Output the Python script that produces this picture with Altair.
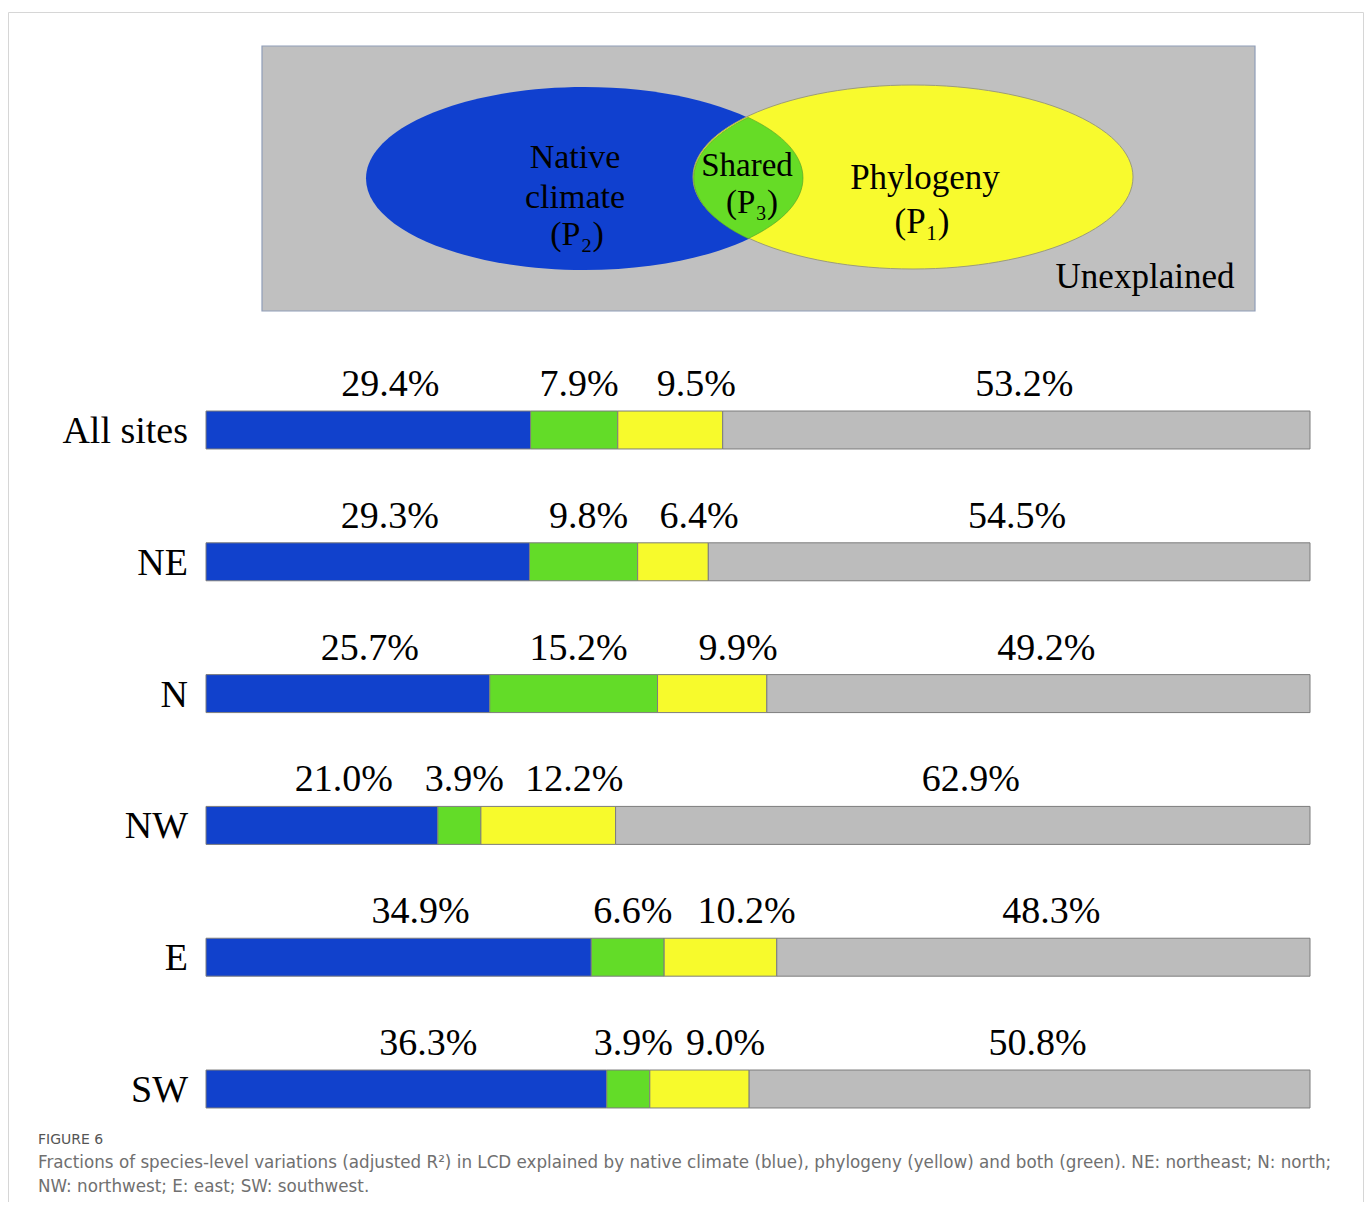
import altair as alt
import pandas as pd

# ---------------- data ----------------
sites = ["All sites", "NE", "N", "NW", "E", "SW"]
climate = [29.4, 29.3, 25.7, 21.0, 34.9, 36.3]
shared = [7.9, 9.8, 15.2, 3.9, 6.6, 3.9]
phylogeny = [9.5, 6.4, 9.9, 12.2, 10.2, 9.0]
unexplained = [53.2, 54.5, 49.2, 62.9, 48.3, 50.8]
components = ["Native climate", "Shared", "Phylogeny", "Unexplained"]
colors = ["#1141cc", "#63dc28", "#f7fa2c", "#bcbcbc"]

caption_title = "FIGURE 6"
caption_line1 = ("Fractions of species-level variations (adjusted R\u00b2) in LCD explained by native climate (blue), "
                 "phylogeny (yellow) and both (green). NE: northeast; N: north;")
caption_line2 = "NW: northwest; E: east; SW: southwest."

rows = []
series = [climate, shared, phylogeny, unexplained]
for i, s in enumerate(sites):
    for j, comp in enumerate(components):
        v = series[j][i]
        rows.append({"site": s, "component": comp, "order": j, "value": v, "label": f"{v:.1f}%"})
df = pd.DataFrame(rows)
one = pd.DataFrame({"k": [0]})

SERIF = "Liberation Serif"
SANS = "DejaVu Sans"

# ---------------- scales ----------------
xs = alt.Scale(domain=[0, 100], range=[198, 1302], nice=False, zero=False)
ys = alt.Scale(domain=sites, range=[356.1, 1146.9], paddingInner=0.712, paddingOuter=0.356)

# ---------------- frame + venn ----------------
frame = alt.Chart(one).mark_rect(fillOpacity=0, stroke="#d6d6d6", strokeWidth=1).encode(
    x=alt.value(0.5), x2=alt.value(1355.5), y=alt.value(4.5), y2=alt.value(1300))

venn_bg = alt.Chart(one).mark_rect(fill="#c0c0c0", stroke="#8f9db8", strokeWidth=1.2).encode(
    x=alt.value(254), x2=alt.value(1247), y=alt.value(38), y2=alt.value(303))


def ellipse_path(rx, ry):
    return f"M {-rx} 0 A {rx} {ry} 0 1 1 {rx} 0 A {rx} {ry} 0 1 1 {-rx} 0 Z"


blue_ell = alt.Chart(one).mark_point(shape=ellipse_path(218.5, 91.5), size=4, filled=True,
                                     fill="#1040cf", opacity=1, strokeWidth=0).encode(
    x=alt.value(576.5), y=alt.value(170.5))
yellow_ell = alt.Chart(one).mark_point(shape=ellipse_path(220, 92), size=4, filled=True,
                                       fill="#f8fa2e", stroke="#9c9c7a", strokeWidth=1, opacity=1).encode(
    x=alt.value(905), y=alt.value(169))
lens_path = "M 0 -60.6 A 220 92 0 0 0 0 60.6 A 218.5 91.5 0 0 0 0 -60.6 Z"
lens = alt.Chart(one).mark_point(shape=lens_path, size=4, filled=True, fill="#66dc26",
                                 stroke="#4f9a2a", strokeWidth=0.6, opacity=1).encode(
    x=alt.value(740.2), y=alt.value(170))


def vtext(t, x, y, size=34, align="center", font=SERIF, color="black", weight="normal"):
    return alt.Chart(one).mark_text(text=t, font=font, fontSize=size, align=align, fontWeight=weight,
                                    baseline="middle", color=color).encode(
        x=alt.value(x), y=alt.value(y))


venn_texts = [
    vtext("Native", 567, 150),
    vtext("climate", 567, 190),
    vtext("(P\u2082)", 569, 227),
    vtext("Shared", 739, 158, size=33),
    vtext("(P\u2083)", 744, 195, size=33),
    vtext("Phylogeny", 917, 170, size=35),
    vtext("(P\u2081)", 914, 214, size=35),
    vtext("Unexplained", 1137, 269, size=35),
]

# ---------------- bars ----------------
base = alt.Chart(df).transform_stack(
    stack="value", groupby=["site"], sort=[alt.SortField("order", order="ascending")], as_=["x0", "x1"]
).transform_calculate(mid="(datum.x0 + datum.x1) / 2")

bars = base.mark_bar(stroke="#7d7d7d", strokeWidth=1).encode(
    x=alt.X("x0:Q", scale=xs, axis=None),
    x2="x1:Q",
    y=alt.Y("site:N", scale=ys, axis=None, sort=sites),
    color=alt.Color("component:N", scale=alt.Scale(domain=components, range=colors), legend=None),
)

dxs = {"Native climate": 22, "Shared": 5, "Phylogeny": 26, "Unexplained": 8}
label_layers = [
    base.transform_filter(alt.datum.component == c).mark_text(
        font=SERIF, fontSize=38, dx=dxs[c], dy=-45, baseline="middle", color="black"
    ).encode(
        x=alt.X("mid:Q", scale=xs, axis=None),
        y=alt.Y("site:N", scale=ys, axis=None, sort=sites),
        text="label:N",
    )
    for c in components
]

cat_labels = alt.Chart(pd.DataFrame({"site": sites})).mark_text(
    font=SERIF, fontSize=38, align="right", baseline="middle", dy=2, color="black"
).encode(
    x=alt.value(180),
    y=alt.Y("site:N", scale=ys, axis=None, sort=sites),
    text="site:N",
)

# ---------------- caption ----------------
cap = [
    vtext(caption_title, 30, 1132, size=14, align="left", font=SANS, color="#555555"),
    vtext(caption_line1, 30, 1155, size=16.75, align="left", font=SANS, color="#707070"),
    vtext(caption_line2, 30, 1179, size=16.75, align="left", font=SANS, color="#707070"),
]

chart = alt.layer(
    frame, venn_bg, blue_ell, yellow_ell, lens, *venn_texts, bars, *label_layers, cat_labels, *cap
).properties(
    width=1356, height=1194, autosize=alt.AutoSizeParams(type="none"), padding=0,
    background="white",
).configure_view(stroke="transparent")

chart.save("out.html", embed_options={"renderer": "svg", "actions": False})
